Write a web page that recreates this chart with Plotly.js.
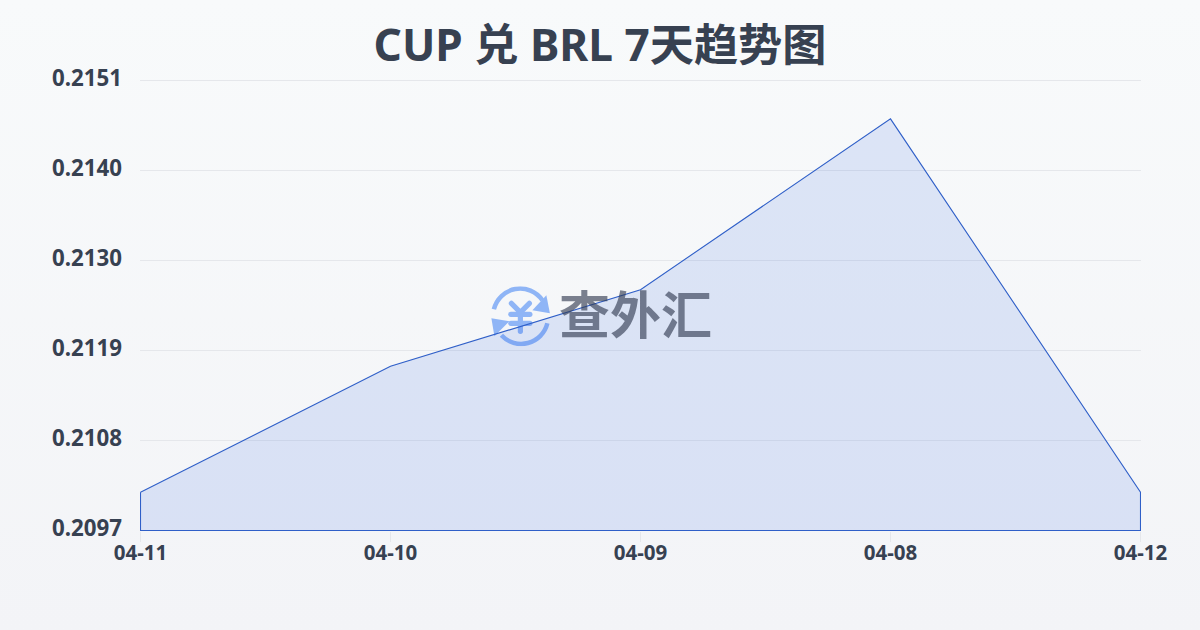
<!DOCTYPE html>
<html>
<head>
<meta charset="utf-8">
<script src="https://cdn.plot.ly/plotly-3.0.1.min.js"></script>
<style>
html,body{margin:0;padding:0;width:1200px;height:630px;overflow:hidden;background:linear-gradient(180deg,#f8fafb 0%,#f3f4f7 100%);}
#chart{width:1200px;height:630px;}
</style>
</head>
<body>
<div id="chart"></div>
<script>
const titleText = 'CUP 兑 BRL 7天趋势图';
const dates = ['04-11','04-10','04-09','04-08','04-12'];
const rates = [0.21016,0.21167,0.21259,0.21464,0.21016];
const baseline = 0.2097;
const yTop = 0.2151;
const yTickVals = [0.2097,0.21078,0.21186,0.21294,0.21402,0.2151];
const yTickText = ['0.2097','0.2108','0.2119','0.2130','0.2140','0.2151'];
const fontFamily = '"Noto Sans","Noto Sans CJK SC",sans-serif';
const ink = '#374151';
const gridColor = '#e5e7eb';

const logo = "data:image/svg+xml;utf8," + encodeURIComponent(
'<svg xmlns="http://www.w3.org/2000/svg" viewBox="0 0 60 60" width="60" height="60">' +
'<g fill="none" stroke="#8fb5f6" stroke-width="4.5">' +
'<path d="M3.5 23 A27 27 0 0 1 52 14"/>' +
'<path d="M57 37 A27 27 0 0 1 11 49"/></g>' +
'<path d="M56 9 L59.5 27 L42 24 Z" fill="#8fb5f6"/>' +
'<path d="M1 32 L19 35 L4 50 Z" fill="#8fb5f6"/>' +
'<g fill="none" stroke="#8fb5f6" stroke-width="5.2" stroke-linecap="round" stroke-linejoin="round">' +
'<path d="M21 17 L30 26 L39 17"/><path d="M20.5 28 H39.5"/><path d="M20.5 37 H39.5"/><path d="M30 27 V45"/></g></svg>');

Plotly.newPlot('chart',[{
  type:'scatter',mode:'lines',
  x:[...dates,dates[dates.length-1],dates[0],dates[0]],
  y:[...rates,baseline,baseline,rates[0]],
  fill:'toself',fillcolor:'rgba(37,90,225,0.13)',
  line:{color:'#2f5fc8',width:1.1,shape:'linear'},
  hoverinfo:'skip',cliponaxis:false
}],{
  width:1200,height:630,
  paper_bgcolor:'rgba(0,0,0,0)',plot_bgcolor:'rgba(0,0,0,0)',
  margin:{l:140,r:59,t:80,b:99},
  showlegend:false,
  font:{family:fontFamily,color:ink},
  title:{text:'<b>'+titleText+'</b>',x:0.5,xanchor:'center',y:0.927,yanchor:'middle',font:{family:fontFamily,size:44.2,color:ink}},
  xaxis:{type:'category',categoryorder:'array',categoryarray:dates,range:[-0.002,4.002],
    showgrid:false,zeroline:false,showline:false,ticks:'outside',ticklen:10,tickwidth:1,tickcolor:gridColor,
    ticklabelstandoff:-7,
    tickfont:{family:fontFamily,size:20.5,color:ink,weight:700},automargin:false},
  yaxis:{range:[0.209694,0.215106],tickmode:'array',tickvals:yTickVals,ticktext:yTickText,
    showgrid:true,gridcolor:gridColor,gridwidth:1,zeroline:false,showline:false,ticks:'',ticklabelstandoff:17,ticklabelshift:-2,
    tickfont:{family:fontFamily,size:22.3,color:ink,weight:700},automargin:false},
  shapes:[{type:'line',xref:'paper',yref:'y',x0:0,x1:1,y0:yTop,y1:yTop,line:{color:gridColor,width:1},layer:'below'}],
  images:[{source:logo,xref:'paper',yref:'paper',x:0.35,y:0.476,sizex:0.06,sizey:0.133,xanchor:'left',yanchor:'middle',sizing:'contain',layer:'below',opacity:1}],
  annotations:[{text:'<b>查外汇</b>',xref:'paper',yref:'paper',x:0.4955,y:0.4845,xanchor:'center',yanchor:'middle',showarrow:false,
    font:{family:'"Noto Sans CJK SC",sans-serif',size:51,color:'rgba(50,60,82,0.64)'}}]
},{displayModeBar:false,staticPlot:true});
</script>
</body>
</html>
